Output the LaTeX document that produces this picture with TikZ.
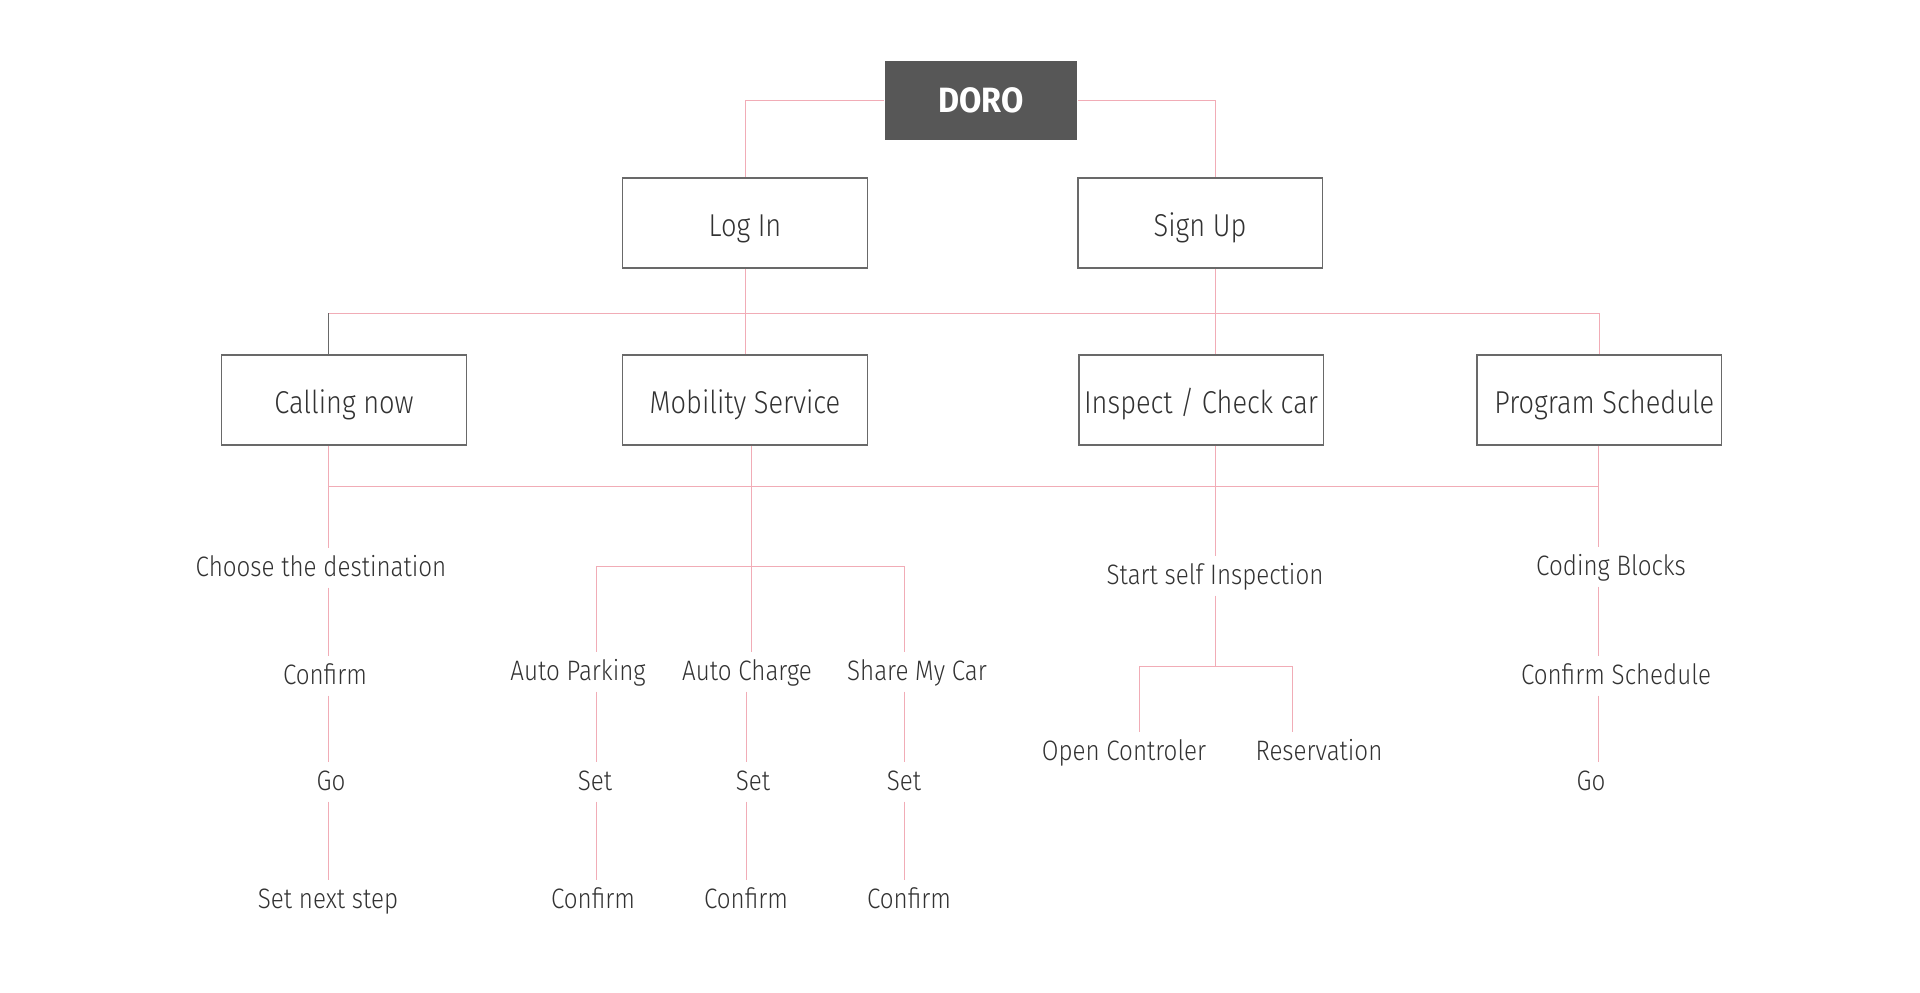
\documentclass[tikz,border=0pt]{standalone}
\usepackage{fontspec}
\setmainfont{Fira Sans Light}[FakeStretch=0.86]
\newfontfamily\heavyfont{Fira Sans}[FakeStretch=0.92]
\usepackage{tikz}
\usetikzlibrary{positioning, calc}

\definecolor{linepink}{RGB}{241,172,182}
\definecolor{boxgray}{RGB}{105,105,105}
\definecolor{topgray}{RGB}{87,87,87}
\definecolor{txtgray}{RGB}{50,50,50}

\tikzset{
    box/.style={draw=boxgray, line width=1.1pt, fill=white, minimum width=4.9cm, minimum height=1.8cm, inner sep=0pt, text=txtgray, text height=17pt, text depth=2pt, font=\fontsize{18}{20}\selectfont},
    topbox/.style={fill=topgray, minimum width=3.86cm, minimum height=1.58cm, text=white, font=\heavyfont\fontsize{20}{22}\selectfont\bfseries},
    leaf/.style={text=txtgray, inner xsep=0pt, inner ysep=3pt, text height=13pt, text depth=3pt, font=\fontsize{16}{18}\selectfont},
    link/.style={draw=linepink, line width=0.45pt},
}

\begin{document}
\begin{tikzpicture}[x=0.02cm, y=-0.02cm]
    \useasboundingbox (0,0) rectangle (1920,992);

    % boxes
    \node[topbox] (doro) at (981,100) {DORO};
    \node[box] (login) at (745,223) {Log In};
    \node[box] (signup) at (1200,223) {Sign Up};
    \node[box] (calling) at (344,400) {Calling now};
    \node[box] (mobility) at (745,400) {Mobility Service};
    \node[box] (inspect) at (1201,400) {Inspect / Check car};
    \node[box] (program) at (1599,400) {\hspace*{6pt}Program Schedule};

    % steps
    \node[leaf] (choose) at (321,568) {Choose the destination};
    \node[leaf] (confirmA) at (325,676) {Confirm};
    \node[leaf] (goA) at (331,782) {Go};
    \node[leaf] (nextstep) at (328,900) {Set next step};

    \node[leaf] (autopark) at (578,672) {Auto Parking};
    \node[leaf] (autocharge) at (747,672) {Auto Charge};
    \node[leaf] (sharecar) at (917,672) {Share My Car};
    \node[leaf] (setA) at (595,782) {Set};
    \node[leaf] (setB) at (753,782) {Set};
    \node[leaf] (setC) at (904,782) {Set};
    \node[leaf] (confirmB) at (593,900) {Confirm};
    \node[leaf] (confirmC) at (746,900) {Confirm};
    \node[leaf] (confirmD) at (909,900) {Confirm};

    \node[leaf] (selfinsp) at (1215,576) {Start self Inspection};
    \node[leaf] (opencontrol) at (1124,752) {Open Controler};
    \node[leaf] (reservation) at (1319,752) {Reservation};

    \node[leaf] (coding) at (1611,567) {Coding Blocks};
    \node[leaf] (confirmsched) at (1616,676) {Confirm Schedule};
    \node[leaf] (goB) at (1591,782) {Go};

    % bus points
    \coordinate (busA) at (328,313);
    \coordinate (busB) at (1599,313);
    \coordinate (busC) at (328,486);
    \coordinate (busD) at (1598,486);
    \coordinate (splitA) at (751,566);
    \coordinate (splitAl) at (596,566);
    \coordinate (splitAr) at (904,566);
    \coordinate (splitB) at (1215,666);
    \coordinate (splitBl) at (1139,666);
    \coordinate (splitBr) at (1292,666);

    % top level
    \draw[link] (doro.west) -| (login.north);
    \draw[link] (doro.east) -| ($(signup.north)+(15,0)$);

    % second level
    \draw[link] (login.south) -- (mobility.north);
    \draw[link] ($(signup.south)+(15,0)$) -- (inspect.north -| splitB);
    \draw[link] (busA) -- (busB) -- (program.north -| busB);
    \draw[boxgray, line width=0.45pt] (busA) -- (calling.north -| busA);

    % third level
    \draw[link] (calling.south -| busC) -- (busC) -- (busD);
    \draw[link] (program.south -| busD) -- (coding.north -| busD);
    \draw[link] (busC) -- (choose.north -| busC);
    \draw[link] (choose.south -| busC) -- (confirmA.north -| busC);
    \draw[link] (confirmA.south -| busC) -- (goA.north -| busC);
    \draw[link] (goA.south -| busC) -- (nextstep.north -| busC);

    \draw[link] (mobility.south -| splitA) -- (splitA);
    \draw[link] (splitAl) -- (splitAr);
    \draw[link] (splitAl) -- (autopark.north -| splitAl);
    \draw[link] (splitA) -- (autocharge.north -| splitA);
    \draw[link] (splitAr) -- (sharecar.north -| splitAr);
    \draw[link] (autopark.south -| splitAl) -- (setA.north -| splitAl);
    \draw[link] (setA.south -| splitAl) -- (confirmB.north -| splitAl);
    \draw[link] (autocharge.south -| confirmC) -- (setB.north -| confirmC);
    \draw[link] (setB.south -| confirmC) -- (confirmC.north);
    \draw[link] (sharecar.south -| splitAr) -- (setC.north -| splitAr);
    \draw[link] (setC.south -| splitAr) -- (confirmD.north -| splitAr);

    \draw[link] (inspect.south -| splitB) -- (selfinsp.north -| splitB);
    \draw[link] (selfinsp.south -| splitB) -- (splitB);
    \draw[link] (splitBl) -- (splitBr);
    \draw[link] (splitBl) -- (opencontrol.north -| splitBl);
    \draw[link] (splitBr) -- (reservation.north -| splitBr);

    \draw[link] (coding.south -| busD) -- (confirmsched.north -| busD);
    \draw[link] (confirmsched.south -| busD) -- (goB.north -| busD);
\end{tikzpicture}
\end{document}
